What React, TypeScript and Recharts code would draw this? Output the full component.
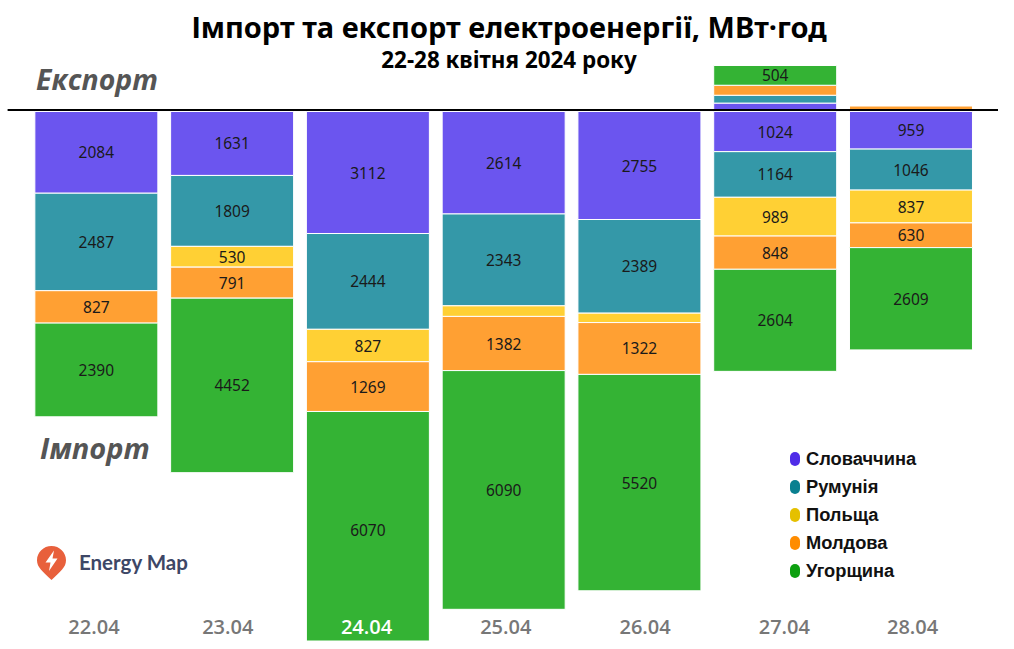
import { BarChart, Bar, XAxis, YAxis, Legend, LabelList, ReferenceLine } from 'recharts';

const days = ['22.04', '23.04', '24.04', '25.04', '26.04', '27.04', '28.04'];
// the date labels don't sit exactly under the bars in the original
const dayNudge = [-2.5, -4.5, -1.5, 2, 5.5, 9, 1.5];

// Import, MWh per day
const importSlovakia = [2084, 1631, 3112, 2614, 2755, 1024, 959];
const importRomania = [2487, 1809, 2444, 2343, 2389, 1164, 1046];
const importPoland = [0, 530, 827, 270, 240, 989, 837];
const importMoldova = [827, 791, 1269, 1382, 1322, 848, 630];
const importHungary = [2390, 4452, 6070, 6090, 5520, 2604, 2609];

// Export, MWh per day
const exportSlovakia = [0, 0, 0, 0, 0, 215, 0];
const exportRomania = [0, 0, 0, 0, 0, 200, 0];
const exportMoldova = [0, 0, 0, 0, 0, 255, 140];
const exportHungary = [0, 0, 0, 0, 0, 504, 0];

const countries = ['Словаччина', 'Румунія', 'Польща', 'Молдова', 'Угорщина'];
const barColors = ['#6B55EF', '#3498A8', '#FFD034', '#FFA033', '#34B334'];
const markerColors = ['#4F2CE8', '#0A8090', '#E5C000', '#FF8C00', '#0DA010'];

const importSeries = [importSlovakia, importRomania, importPoland, importMoldova, importHungary];
const exportSeries = [exportSlovakia, exportRomania, null, exportMoldova, exportHungary];

const yDomain = [-13507, 1314];
const plotHeight = 581;
const pxPerUnit = plotHeight / (yDomain[1] - yDomain[0]);

const data = days.map((day, i) => {
    const row: Record<string, string | number> = { day };
    countries.forEach((c, k) => {
        row[`imp${k}`] = -importSeries[k][i];
        row[`exp${k}`] = exportSeries[k] ? exportSeries[k]![i] : 0;
    });
    return row;
});

// centred on the whole segment, also for the 24.04 bar that runs off the plot
const renderValue = ({ viewBox, value }: any) => {
    const n = Math.abs(Number(value));
    if (n < 500) return null;
    const top = Math.min(viewBox.y, viewBox.y + viewBox.height);
    return (
        <text
            x={viewBox.x + viewBox.width / 2}
            y={top + (n * pxPerUnit) / 2 + 6}
            textAnchor="middle"
            style={{ fontFamily: 'Noto Sans', fontSize: 15.5, fill: '#1a1a1a' }}
        >
            {n}
        </text>
    );
};

const renderDayTick = ({ x, y, payload, index }: any) => (
    <text
        x={x + dayNudge[index]}
        y={y - 15}
        textAnchor="middle"
        style={{
            fontFamily: 'Open Sans',
            fontWeight: 600,
            fontSize: 20,
            fill: payload.value === '24.04' ? '#ffffff' : '#777777',
        }}
    >
        {payload.value}
    </text>
);

const CountryLegend = () => (
    <div>
        {countries.map((c, k) => (
            <div key={c} style={{ display: 'flex', alignItems: 'center', height: 28 }}>
                <span
                    style={{
                        width: 10,
                        height: 14,
                        borderRadius: 5,
                        background: markerColors[k],
                        marginRight: 6,
                    }}
                />
                <span
                    style={{
                        fontFamily: 'Liberation Sans',
                        fontWeight: 700,
                        fontSize: 18.3,
                        color: '#111111',
                    }}
                >
                    {c}
                </span>
            </div>
        ))}
    </div>
);

const ZeroLine = ({ x1, x2, y1 }: any) => (
    <line x1={x1 - 21} x2={x2 + 19} y1={y1 - 1.5} y2={y1 - 1.5} stroke="#000000" strokeWidth={2} />
);

export default function App() {
    return (
        <div style={{ position: 'absolute', left: 0, top: 0, width: 1014, height: 649, background: '#fff' }}>
            <BarChart
                width={1014}
                height={649}
                data={data}
                stackOffset="sign"
                barCategoryGap="4.6%"
                margin={{ top: 60, right: 35, bottom: 7, left: 28.6 }}
            >
                <YAxis hide type="number" domain={yDomain} allowDataOverflow />
                {countries.map((c, k) => (
                    <Bar
                        key={c}
                        dataKey={`imp${k}`}
                        stackId="a"
                        fill={barColors[k]}
                        stroke="#ffffff"
                        strokeWidth={1}
                        isAnimationActive={false}
                        legendType="none"
                    >
                        <LabelList dataKey={`imp${k}`} content={renderValue} />
                    </Bar>
                ))}
                {countries.map((c, k) =>
                    exportSeries[k] ? (
                        <Bar
                            key={`${c}-export`}
                            dataKey={`exp${k}`}
                            stackId="a"
                            fill={barColors[k]}
                            stroke="#ffffff"
                            strokeWidth={1}
                            isAnimationActive={false}
                            legendType="none"
                        >
                            <LabelList dataKey={`exp${k}`} content={renderValue} />
                        </Bar>
                    ) : null
                )}
                <ReferenceLine y={0} shape={<ZeroLine />} />
                <XAxis dataKey="day" height={1} axisLine={false} tickLine={false} tick={renderDayTick} interval={0} />
                <Legend
                    layout="vertical"
                    align="center"
                    verticalAlign="middle"
                    content={<CountryLegend />}
                    wrapperStyle={{ position: 'absolute', left: 790, top: 445, width: 180, height: 140 }}
                />

                <text x={509} y={38} textAnchor="middle" style={{ fontFamily: 'Noto Sans', fontWeight: 700, fontSize: 29, fill: '#000' }}>
                    Імпорт та експорт електроенергії, МВт·год
                </text>
                <text x={509} y={68} textAnchor="middle" style={{ fontFamily: 'Noto Sans', fontWeight: 700, fontSize: 22.4, fill: '#000' }}>
                    22-28 квітня 2024 року
                </text>
                <text x={36} y={90} style={{ fontFamily: 'Open Sans', fontWeight: 700, fontStyle: 'italic', fontSize: 28.4, fill: '#555555' }}>
                    Експорт
                </text>
                <text x={40} y={459} style={{ fontFamily: 'Open Sans', fontWeight: 700, fontStyle: 'italic', fontSize: 29, fill: '#555555' }}>
                    Імпорт
                </text>

                {/* logo */}
                <g transform="translate(37,546)">
                    <path
                        d="M14.5 0C6.5 0 0 6.3 0 14.2 0 21.5 5.5 25 14.5 34 23.5 25 29 21.5 29 14.2 29 6.3 22.5 0 14.5 0Z"
                        fill="#E8603C"
                    />
                    <path d="M17 4.5 8.5 16.5H13.5L12 25 20.5 12.5H15.5Z" fill="#ffffff" />
                </g>
                <text x={79} y={570} style={{ fontFamily: 'Lato', fontWeight: 700, fontSize: 20.5, fill: '#3D4766' }}>
                    Energy Map
                </text>
            </BarChart>
        </div>
    );
}
